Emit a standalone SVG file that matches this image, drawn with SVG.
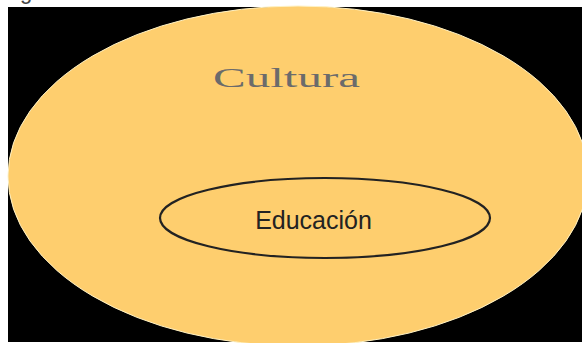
<svg xmlns="http://www.w3.org/2000/svg" width="582" height="343" viewBox="0 0 582 343">
  <style>
    .bg { fill: #000000; }
    .outer { fill: #FECE6E; stroke: #FFF2C4; stroke-width: 1; }
    .inner { fill: none; stroke: #222222; stroke-width: 2.2; }
    .title { font-family: "Liberation Serif", "Times New Roman", serif; font-size: 27px; fill: #6B6B6B; }
    .label { font-family: "Liberation Sans", Arial, sans-serif; font-size: 25px; fill: #222222; }
    .cap { font-family: "Liberation Sans", Arial, sans-serif; font-size: 22px; fill: #444444; }
  </style>
  <rect x="0" y="0" width="582" height="343" fill="#FFFFFF"/>
  <text class="cap" x="20" y="-1">g</text>
  <rect class="bg" x="8" y="7" width="574" height="335"/>
  <g id="cultura">
    <ellipse class="outer" cx="298" cy="176" rx="290" ry="170"/>
    <text class="title" x="213" y="87" textLength="147" lengthAdjust="spacingAndGlyphs">Cultura</text>
  </g>
  <g id="educacion">
    <ellipse class="inner" cx="325" cy="218" rx="165" ry="40"/>
    <text class="label" x="313.5" y="229" text-anchor="middle">Educación</text>
  </g>
  <g id="connectors"></g>
</svg>
